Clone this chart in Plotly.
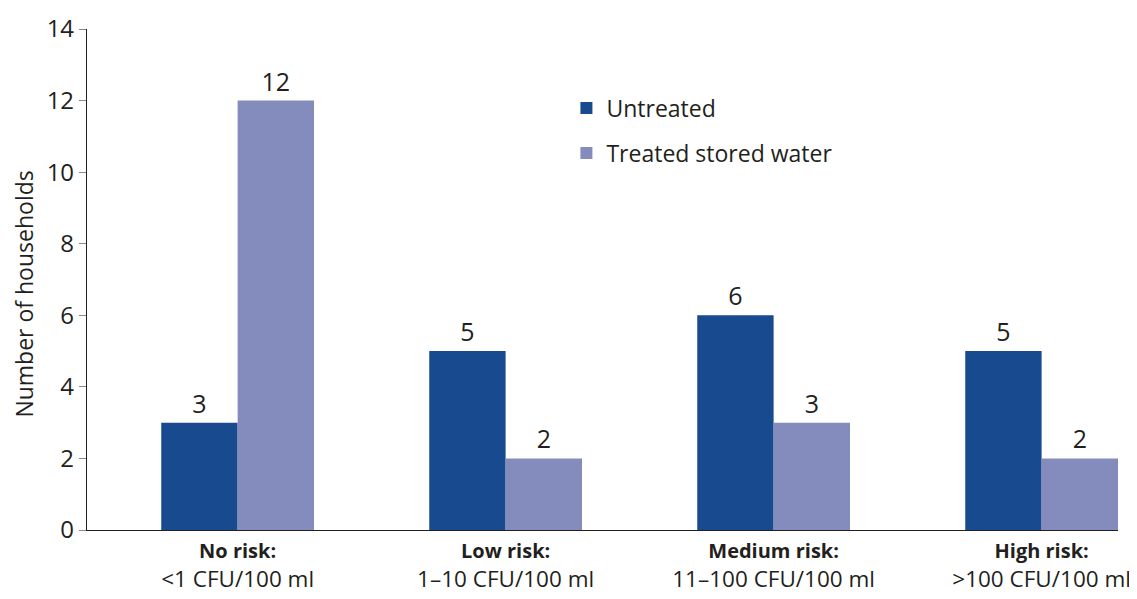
import plotly.graph_objects as go

categories_bold = ["No risk:", "Low risk:", "Medium risk:", "High risk:"]
categories_range = ["<1 CFU/100 ml", "1–10 CFU/100 ml", "11–100 CFU/100 ml", ">100 CFU/100 ml"]
untreated = [3, 5, 6, 5]
treated = [12, 2, 3, 2]
y_ticks = [0, 2, 4, 6, 8, 10, 12, 14]
y_title = "Number of households"

def esc(s):
    return s.replace("<", "&lt;").replace(">", "&gt;")

tick_text = [f"<span style='font-size:20px'><b>{b}</b></span><br>{esc(r)}"
             for b, r in zip(categories_bold, categories_range)]
xpos = list(range(len(categories_bold)))

FONT = "Open Sans"
TXT = "#231f20"

fig = go.Figure()
fig.add_trace(go.Bar(
    x=xpos, y=untreated, name="Untreated", marker_color="#184A8F",
    marker_line_width=0, text=untreated, textposition="outside",
    textfont=dict(size=25, color=TXT, family=FONT), cliponaxis=False,
    legendgroup="a",
))
fig.add_trace(go.Bar(
    x=xpos, y=treated, name="Treated stored water", marker_color="#838CBD",
    marker_line_width=0, text=treated, textposition="outside",
    textfont=dict(size=25, color=TXT, family=FONT), cliponaxis=False,
    legendgroup="b",
))

# page body has an 8px default margin: shift figure up/left accordingly
fig.update_layout(
    width=1129, height=591,
    margin=dict(l=79, r=19, t=21, b=69),
    plot_bgcolor="white", paper_bgcolor="white",
    barmode="group", bargap=0.43, bargroupgap=0,
    font=dict(family=FONT, color=TXT),
    showlegend=True,
    legend=dict(
        x=0.465, y=0.885, xanchor="left", yanchor="top",
        font=dict(size=23, color=TXT, family=FONT),
        traceorder="grouped", tracegroupgap=12,
        bgcolor="rgba(0,0,0,0)", itemwidth=30,
    ),
    xaxis=dict(
        range=[-0.562, 3.285], tickvals=xpos, ticktext=tick_text,
        showline=True, linecolor="#231f20", linewidth=1.2,
        ticks="", showgrid=False, zeroline=False, automargin=False,
        tickfont=dict(size=22.5, color=TXT, family=FONT),
    ),
    yaxis=dict(
        range=[0, 14], tickvals=y_ticks,
        showline=True, linecolor="#231f20", linewidth=1.2,
        ticks="outside", ticklen=7, tickcolor="#888888", tickwidth=1,
        showgrid=False, zeroline=False, automargin=False,
        tickfont=dict(size=24, color=TXT, family=FONT),
    ),
    annotations=[dict(
        text=y_title, textangle=-90, xref="paper", yref="paper",
        x=-0.062, y=0.47, xanchor="center", yanchor="middle",
        showarrow=False, borderpad=0,
        font=dict(size=23, color=TXT, family=FONT),
    )],
)

fig.write_html("out.html")
